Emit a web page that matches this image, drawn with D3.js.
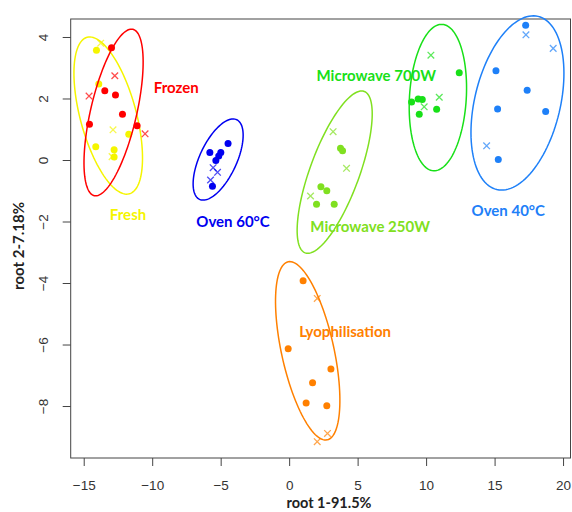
<!DOCTYPE html>
<html>
<head>
<meta charset="utf-8">
<script src="https://cdn.jsdelivr.net/npm/d3@7"></script>
<style>
html,body{margin:0;padding:0;background:#fff;}
svg{display:block;}
</style>
</head>
<body>
<svg id="chart" width="572" height="512"></svg>
<script>
// ---- data ----
const groups = ["Fresh", "Frozen", "Oven 60°C", "Microwave 250W", "Microwave 700W", "Oven 40°C", "Lyophilisation"];
const groupColors = ["#f5f500", "#ff0000", "#0000f0", "#80e020", "#18e018", "#1e80f8", "#ff8000"];

const freshDots = [[-14.07,3.57],[-13.90,2.47],[-14.12,0.43],[-12.78,0.33],[-12.78,0.10],[-11.71,0.84]];
const freshCrosses = [[-13.76,3.80],[-12.86,0.98],[-12.93,0.11]];
const frozenDots = [[-12.97,3.65],[-13.46,2.25],[-12.68,2.11],[-12.17,1.49],[-14.58,1.16],[-11.10,1.11]];
const frozenCrosses = [[-12.73,2.74],[-14.61,2.08],[-10.52,0.85]];
const oven60Dots = [[-4.46,0.54],[-5.79,0.24],[-4.99,0.24],[-5.14,0.13],[-5.35,-0.02],[-5.60,-0.85]];
const oven60Crosses = [[-5.55,-0.25],[-5.23,-0.40],[-5.74,-0.65]];
const mw250Dots = [[3.75,0.38],[3.90,0.30],[2.32,-0.87],[2.75,-1.00],[2.00,-1.44],[3.29,-1.44]];
const mw250Crosses = [[3.21,0.92],[4.19,-0.27],[1.56,-1.17]];
const mw700Dots = [[12.42,2.84],[8.94,1.89],[9.42,1.98],[9.72,1.97],[10.77,1.65],[9.50,1.49]];
const mw700Crosses = [[10.35,3.41],[10.96,2.04],[9.86,1.73]];
const oven40Dots = [[17.27,4.38],[15.10,2.90],[17.38,2.27],[15.22,1.66],[18.73,1.58],[15.27,0.02]];
const oven40Crosses = [[17.29,4.07],[19.28,3.63],[14.42,0.46]];
const lyoDots = [[1.02,-3.93],[-0.07,-6.14],[3.05,-6.80],[1.71,-7.24],[1.24,-7.90],[2.75,-7.99]];
const lyoCrosses = [[2.05,-4.50],[2.80,-8.89],[2.05,-9.16]];

// ellipse major-axis end points (data units) per group
const ellipseEnds = [
  [-14.75, 3.99, -11.67, -1.10],
  [-11.41, 4.25, -14.23, -1.16],
  [-3.83, 1.31, -6.54, -1.28],
  [5.48, 2.23, 1.17, -3.02],
  [11.18, 4.41, 10.54, -0.35],
  [18.18, 4.67, 15.16, -0.96],
  [-0.07, -3.31, 2.78, -9.10]
];
// label anchor (data units)
const labelPos = [[-13.09,-1.76],[-9.88,2.36],[-6.78,-1.98],[1.55,-2.16],[2.00,2.76],[13.32,-1.63],[0.73,-5.56]];

const xTicks = [-15,-10,-5,0,5,10,15,20];
const yTicks = [-8,-6,-4,-2,0,2,4];
const xTitle = "root 1-91.5%";
const yTitle = "root 2-7.18%";

const dotSets = [freshDots, frozenDots, oven60Dots, mw250Dots, mw700Dots, oven40Dots, lyoDots];
const crossSets = [freshCrosses, frozenCrosses, oven60Crosses, mw250Crosses, mw700Crosses, oven40Crosses, lyoCrosses];
// minor half-axis of each ellipse in pixels
const ellipseHalfWidth = [28, 23, 18.5, 24.7, 28.4, 42.8, 26.2];

// ---- layout ----
const L = 70.7, R = 571, T = 19, B = 458;
const svg = d3.select("#chart");
const x = d3.scaleLinear().domain([-15.95, 20.58]).range([L, R]);
const y = d3.scaleLinear().domain([-9.69, 4.585]).range([B, T]);

const axisFont = "'Liberation Sans', Arial, sans-serif";
const labelFont = "Lato, 'Open Sans', sans-serif";

// axes
const gx = svg.append("g").attr("transform", `translate(0,${B})`)
  .call(d3.axisBottom(x).tickValues(xTicks).tickSize(8).tickSizeOuter(0));
gx.select(".domain").remove();
gx.selectAll(".tick line").attr("stroke", "#444").attr("stroke-width", 1);
gx.selectAll(".tick text").attr("y", 27).attr("dy", "0.35em")
  .attr("font-family", axisFont).attr("font-size", 13.5).attr("fill", "#333");

const gy = svg.append("g").attr("transform", `translate(${L},0)`)
  .call(d3.axisLeft(y).tickValues(yTicks).tickSize(8).tickSizeOuter(0));
gy.select(".domain").remove();
gy.selectAll(".tick line").attr("stroke", "#444").attr("stroke-width", 1);
gy.selectAll(".tick text").attr("x", 0).attr("dy", null)
  .attr("transform", "translate(-27,0) rotate(-90)")
  .attr("text-anchor", "middle").attr("dominant-baseline", "central")
  .attr("font-family", axisFont).attr("font-size", 13.5).attr("fill", "#333");

// box
svg.append("rect").attr("x", L).attr("y", T).attr("width", R - L - 0.5).attr("height", B - T)
  .attr("fill", "none").attr("stroke", "#444").attr("stroke-width", 1);

// titles
svg.append("text").attr("x", 329).attr("y", 502).attr("text-anchor", "middle")
  .attr("dominant-baseline", "central").attr("font-family", labelFont)
  .attr("font-weight", "bold").attr("font-size", 14.5).attr("fill", "#222").text(xTitle);
svg.append("text").attr("transform", "translate(18,246) rotate(-90)").attr("text-anchor", "middle")
  .attr("dominant-baseline", "central").attr("font-family", labelFont)
  .attr("font-weight", "bold").attr("font-size", 15).attr("fill", "#222").text(yTitle);

// ellipses
function ellipsePoints(e, hw) {
  const p1 = [x(e[0]), y(e[1])], p2 = [x(e[2]), y(e[3])];
  const cx = (p1[0] + p2[0]) / 2, cy = (p1[1] + p2[1]) / 2;
  const dx = p1[0] - p2[0], dy = p1[1] - p2[1];
  const a = Math.hypot(dx, dy) / 2;
  const ux = dx / (2 * a), uy = dy / (2 * a);
  const vx = -uy, vy = ux;
  return d3.range(0, 120).map(i => {
    const t = i / 120 * 2 * Math.PI;
    return [cx + a * Math.cos(t) * ux + hw * Math.sin(t) * vx,
            cy + a * Math.cos(t) * uy + hw * Math.sin(t) * vy];
  });
}
const line = d3.line().curve(d3.curveLinearClosed);

groups.forEach((g, i) => {
  const col = groupColors[i];
  const gg = svg.append("g");
  gg.append("path").attr("d", line(ellipsePoints(ellipseEnds[i], ellipseHalfWidth[i])))
    .attr("fill", "none").attr("stroke", col).attr("stroke-width", 1.5);
  gg.selectAll("circle").data(dotSets[i]).join("circle")
    .attr("cx", d => x(d[0])).attr("cy", d => y(d[1])).attr("r", 3.5).attr("fill", col);
  const s = 3.3;
  gg.selectAll("path.cross").data(crossSets[i]).join("path").attr("class", "cross")
    .attr("d", d => {
      const px = x(d[0]), py = y(d[1]);
      return `M${px - s},${py - s}L${px + s},${py + s}M${px - s},${py + s}L${px + s},${py - s}`;
    })
    .attr("stroke", col).attr("stroke-width", 1.3).attr("stroke-opacity", 0.7).attr("fill", "none");
  gg.append("text").attr("x", x(labelPos[i][0])).attr("y", y(labelPos[i][1]))
    .attr("dominant-baseline", "central").attr("font-family", labelFont)
    .attr("font-weight", "bold").attr("font-size", 15).attr("fill", col).text(g);
});
</script>
</body>
</html>
